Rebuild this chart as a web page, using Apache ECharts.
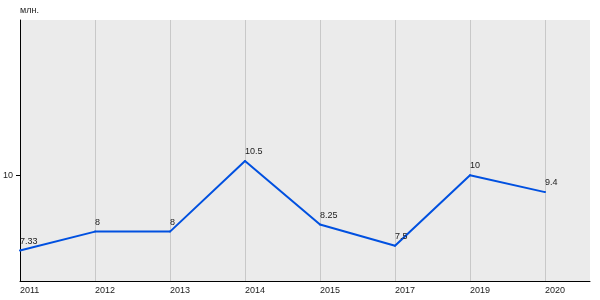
<!DOCTYPE html>
<html>
<head>
<meta charset="utf-8">
<script src="https://cdn.jsdelivr.net/npm/echarts@6/dist/echarts.min.js"></script>
<style>html,body{margin:0;padding:0;background:#fff}#c{width:600px;height:300px}</style>
</head>
<body>
<div id="c"></div>
<script>
const years = ['2011', '2012', '2013', '2014', '2015', '2017', '2019', '2020'];
const values = [7.33, 8, 8, 10.5, 8.25, 7.5, 10, 9.4];
const yTickValues = [10];
const unitLabel = 'млн.';

const font = 'Liberation Sans, Arial, sans-serif';
const txt = '#222';
const gridCol = '#c8c8c8';

const chart = echarts.init(document.getElementById('c'), null, {renderer: 'canvas'});
const yMin = 6.25, yMax = 15.5, yStep = 1.25;
const ySplitColors = [];
for (let v = yMin, i = 0; v <= yMax + 1e-9; v += yStep, i++) {
  ySplitColors.push(yTickValues.indexOf(Math.round(v * 100) / 100) >= 0 ? gridCol : 'rgba(0,0,0,0)');
}
ySplitColors.push('rgba(0,0,0,0)');

chart.setOption({
  animation: false,
  backgroundColor: '#fff',
  grid: {left: 20, right: 10, top: 20, bottom: 19, show: true, backgroundColor: '#ebebeb', borderWidth: 0},
  xAxis: {
    type: 'value', min: 0, max: 7.6, interval: 1,
    axisLine: {show: true, onZero: false, lineStyle: {color: '#000', width: 1}},
    axisTick: {show: false},
    axisLabel: {
      color: txt, fontFamily: font, fontSize: 9, align: 'left', margin: 5,
      showMaxLabel: false,
      formatter: v => (Number.isInteger(v) && years[v] !== undefined) ? years[v] : ''
    },
    splitLine: {show: true, showMaxLine: false, lineStyle: {color: gridCol, width: 1}}
  },
  yAxis: {
    type: 'value', min: yMin, max: yMax, interval: yStep,
    name: unitLabel, nameLocation: 'end', nameGap: 5,
    nameTextStyle: {color: txt, fontFamily: font, fontSize: 9, align: 'left', verticalAlign: 'bottom'},
    axisLine: {show: true, onZero: false, lineStyle: {color: '#000', width: 1}},
    axisTick: {show: true, length: 4, customValues: yTickValues, lineStyle: {color: '#000'}},
    axisLabel: {
      color: txt, fontFamily: font, fontSize: 9, margin: 7,
      customValues: yTickValues,
      formatter: v => String(v)
    },
    splitLine: {show: true, lineStyle: {color: ySplitColors, width: 1}}
  },
  series: [{
    type: 'line',
    data: values.map((v, i) => [i, v]),
    symbol: 'circle', symbolSize: 2,
    itemStyle: {color: '#0050e0'},
    lineStyle: {color: '#0050e0', width: 2},
    label: {
      show: true, position: 'top', align: 'left', distance: 4,
      color: txt, fontFamily: font, fontSize: 9,
      formatter: p => String(values[p.dataIndex])
    },
    emphasis: {disabled: true}
  }]
});
</script>
</body>
</html>
